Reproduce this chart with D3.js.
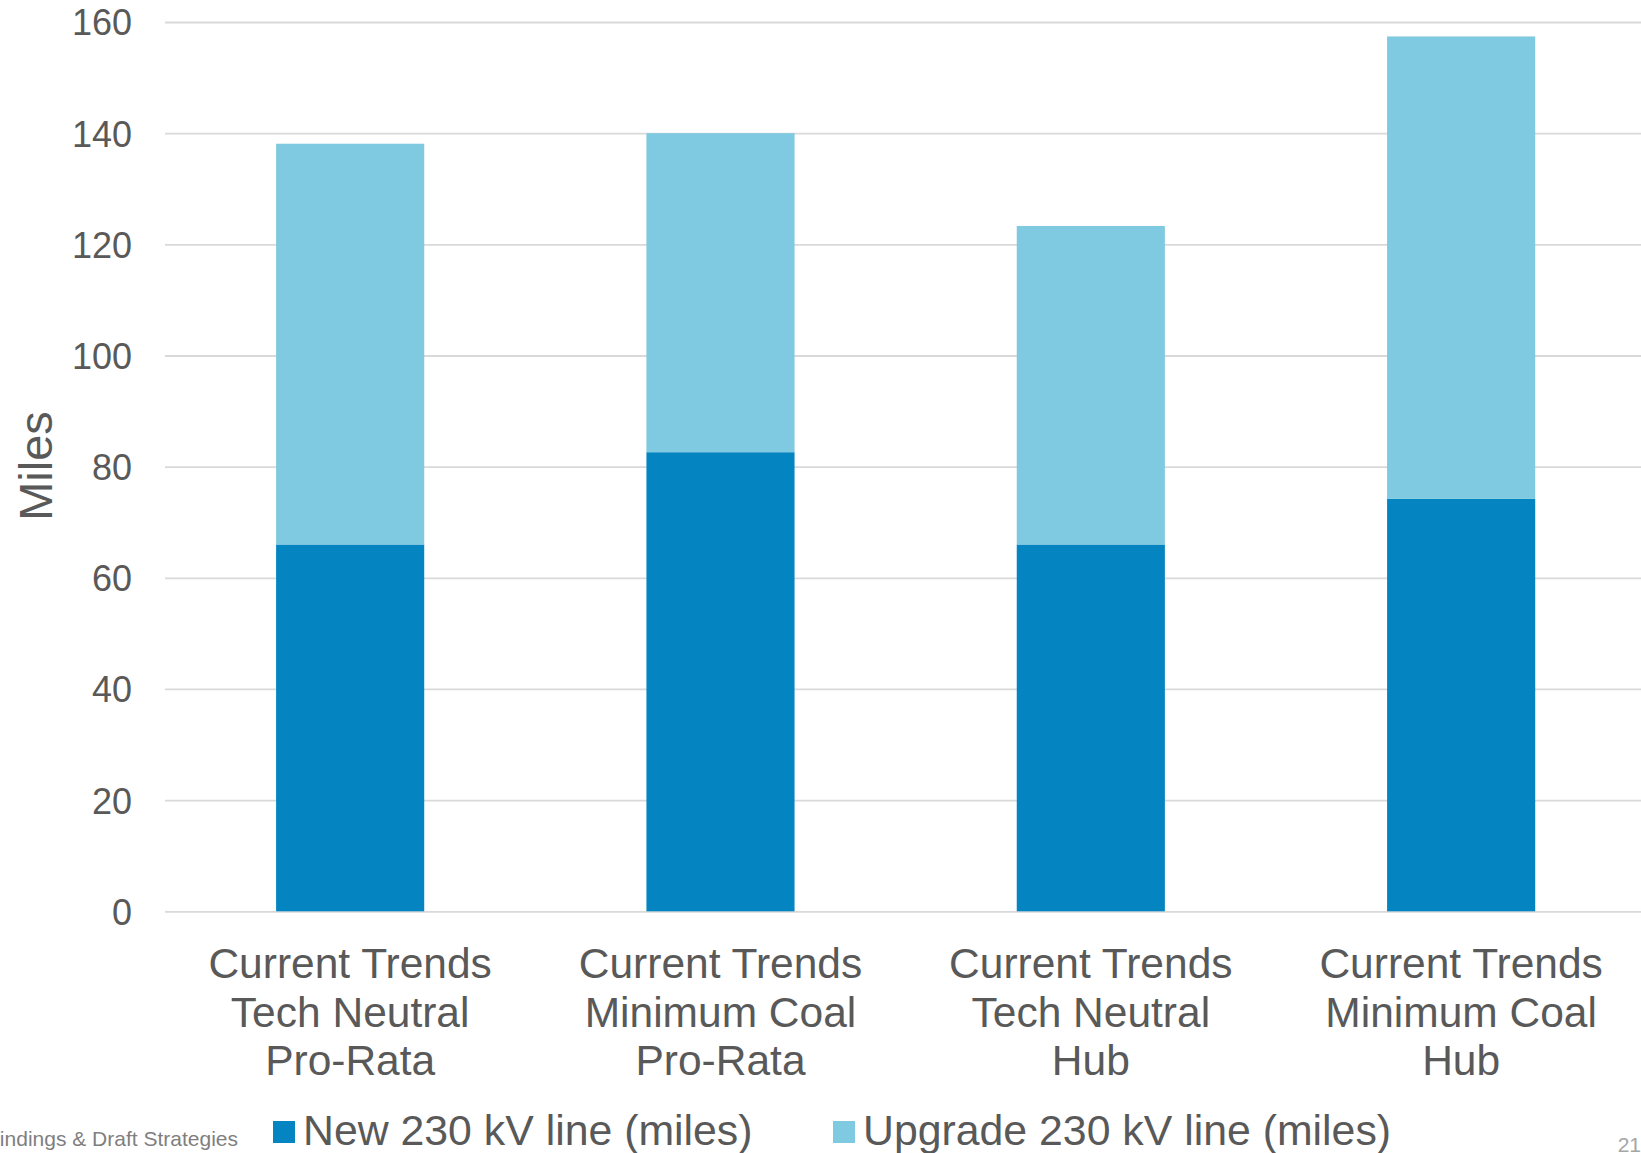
<!DOCTYPE html>
<html>
<head>
<meta charset="utf-8">
<script src="https://cdn.jsdelivr.net/npm/d3@7"></script>
<style>
  html, body { margin: 0; padding: 0; background: #ffffff; overflow: hidden; }
  svg { display: block; font-family: "Liberation Sans", Arial, sans-serif; }
</style>
</head>
<body>
<svg id="chart" width="1641" height="1153"></svg>
<script>
// ---- data ----
const categories = [
  "Current Trends\nTech Neutral\nPro-Rata",
  "Current Trends\nMinimum Coal\nPro-Rata",
  "Current Trends\nTech Neutral\nHub",
  "Current Trends\nMinimum Coal\nHub"
];
const seriesNames = ["New 230 kV line (miles)", "Upgrade 230 kV line (miles)"];
const newLine = [66.0, 82.6, 66.0, 74.2];
const upgradeLine = [72.1, 57.4, 57.3, 83.2];
const yTicks = [0, 20, 40, 60, 80, 100, 120, 140, 160];
const yTitle = "Miles";
const footerText = "Findings & Draft Strategies";
const pageNumber = "21";

// ---- setup ----
const colors = ["#0485c2", "#7fc9e1"];
const textColor = "#595959";
const svg = d3.select("#chart");

const plotLeft = 165, plotRight = 1646.3, plotTop = 22, plotBottom = 911.3;

const x = d3.scaleBand()
  .domain(categories)
  .range([plotLeft, plotRight])
  .paddingInner(0.6)
  .paddingOuter(0.3);

const y = d3.scaleLinear()
  .domain([0, 160])
  .range([plotBottom, plotTop]);

// gridlines + tick labels
const yAxis = d3.axisLeft(y)
  .tickValues(yTicks)
  .tickSize(-(1641 - plotLeft))
  .tickPadding(33)
  .tickFormat(d3.format("d"));

const gy = svg.append("g")
  .attr("transform", `translate(${plotLeft},0)`)
  .call(yAxis);
gy.select(".domain").remove();
gy.selectAll(".tick line")
  .attr("stroke", "#d9d9d9")
  .attr("stroke-width", 1.8);
gy.selectAll(".tick text")
  .attr("fill", textColor)
  .attr("font-size", 36)
  .attr("font-family", "Liberation Sans, Arial, sans-serif")
  .attr("dy", "0.36em");

// stacked data
const rows = categories.map((c, i) => ({ cat: c, n: newLine[i], u: upgradeLine[i] }));
const stack = d3.stack().keys(["n", "u"]);
const stacked = stack(rows);

svg.append("g")
  .selectAll("g")
  .data(stacked)
  .join("g")
  .attr("fill", (d, i) => colors[i])
  .selectAll("rect")
  .data(d => d)
  .join("rect")
  .attr("x", d => x(d.data.cat))
  .attr("width", x.bandwidth())
  .attr("y", d => y(d[1]))
  .attr("height", d => y(d[0]) - y(d[1]));

// category labels
const catG = svg.append("g");
categories.forEach(c => {
  const lines = c.split("\n");
  const t = catG.append("text")
    .attr("text-anchor", "middle")
    .attr("fill", textColor)
    .attr("font-size", 42.5)
    .attr("x", x(c) + x.bandwidth() / 2)
    .attr("y", 978);
  lines.forEach((ln, j) => {
    t.append("tspan")
      .attr("x", x(c) + x.bandwidth() / 2)
      .attr("dy", j === 0 ? 0 : 48.5)
      .text(ln);
  });
});

// y title
svg.append("text")
  .attr("transform", "translate(52,466) rotate(-90)")
  .attr("text-anchor", "middle")
  .attr("fill", textColor)
  .attr("font-size", 47)
  .text(yTitle);

// legend
const legendPos = [273, 833];
const legend = svg.append("g");
seriesNames.forEach((name, i) => {
  legend.append("rect")
    .attr("x", legendPos[i])
    .attr("y", 1121)
    .attr("width", 22)
    .attr("height", 22)
    .attr("fill", colors[i]);
  legend.append("text")
    .attr("x", legendPos[i] + 30)
    .attr("y", 1145)
    .attr("fill", textColor)
    .attr("font-size", 42.8)
    .text(name);
});

// footer
svg.append("text")
  .attr("x", 238)
  .attr("y", 1146)
  .attr("text-anchor", "end")
  .attr("fill", "#7f7f7f")
  .attr("font-size", 21)
  .text(footerText);

svg.append("text")
  .attr("x", 1641)
  .attr("y", 1152)
  .attr("text-anchor", "end")
  .attr("fill", "#a6a6a6")
  .attr("font-size", 21)
  .text(pageNumber);
</script>
</body>
</html>
